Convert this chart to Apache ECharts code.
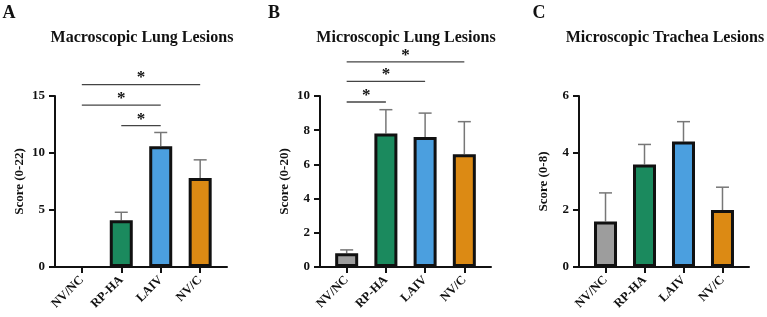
<!DOCTYPE html>
<html>
<head>
<meta charset="utf-8">
<script src="https://cdn.jsdelivr.net/npm/echarts@6/dist/echarts.min.js"></script>
<style>html,body{margin:0;padding:0;background:#fff}#c{width:767px;height:317px}</style>
</head>
<body>
<div id="c"></div>
<script>
const categories = ['NV/NC', 'RP-HA', 'LAIV', 'NV/C'];
const barColors = ['#9d9d9d', '#1b8a5e', '#4b9fdf', '#dc8a14'];

const macroMean = [0, 4.1, 10.6, 7.8];
const macroSd = [0, 0.7, 1.2, 1.6];
const macroSig = [[0, 3, 16.0], [0, 2, 14.2], [1, 2, 12.4]];

const microLungMean = [0.8, 7.8, 7.6, 6.6];
const microLungSd = [0.2, 1.4, 1.4, 1.9];
const microLungSig = [[0, 3, 12.0], [0, 2, 10.85], [0, 1, 9.65]];

const tracheaMean = [1.6, 3.6, 4.4, 2.0];
const tracheaSd = [1.0, 0.7, 0.7, 0.8];
const tracheaSig = [];

const panelTitles = ['Macroscopic Lung Lesions', 'Microscopic Lung Lesions', 'Microscopic Trachea Lesions'];
const panelLetters = ['A', 'B', 'C'];
const yNames = ['Score (0-22)', 'Score (0-20)', 'Score (0-8)'];
const yMax = [15, 10, 6];
const yInterval = [5, 2, 2];

const FONT = '"Liberation Serif", "Times New Roman", serif';

const grids = [
  {left: 55, width: 172, top: 96, height: 171},
  {left: 320, width: 171, top: 96, height: 171},
  {left: 579, width: 170, top: 96, height: 171}
];
const titleX = [137, 401, 660];
const letterX = [4, 269, 534];

const panels = [
  {mean: macroMean, sd: macroSd, sig: macroSig},
  {mean: microLungMean, sd: microLungSd, sig: microLungSig},
  {mean: tracheaMean, sd: tracheaSd, sig: tracheaSig}
];

const option = {
  animation: false,
  backgroundColor: '#fff',
  title: [],
  grid: grids,
  xAxis: [],
  yAxis: [],
  series: []
};

panels.forEach((p, i) => {
  option.title.push({
    text: panelTitles[i], left: titleX[i], top: 25, textAlign: 'center',
    textStyle: {fontFamily: FONT, fontWeight: 'bold', fontSize: 16, color: '#111'}
  });
  option.title.push({
    text: panelLetters[i], left: letterX[i], top: -1, textAlign: 'center',
    textStyle: {fontFamily: FONT, fontWeight: 'bold', fontSize: 18, color: '#111'}
  });
  option.xAxis.push({
    type: 'value', gridIndex: i, min: -0.68, max: 3.68,
    splitLine: {show: false},
    axisLine: {show: true, onZero: false, lineStyle: {color: '#111', width: 2}},
    axisTick: {show: true, customValues: [0, 1, 2, 3], length: 6, lineStyle: {color: '#111', width: 2}},
    axisLabel: {
      customValues: [0, 1, 2, 3], rotate: 45, margin: 11,
      formatter: v => categories[Math.round(v)] || '',
      fontFamily: FONT, fontWeight: 'bold', fontSize: 12.5, color: '#111'
    }
  });
  option.yAxis.push({
    type: 'value', gridIndex: i, min: 0, max: yMax[i], interval: yInterval[i],
    name: yNames[i], nameLocation: 'middle', nameGap: 29, nameRotate: 90,
    nameTextStyle: {fontFamily: FONT, fontWeight: 'bold', fontSize: 13, color: '#111'},
    splitLine: {show: false},
    axisLine: {show: true, onZero: false, lineStyle: {color: '#111', width: 2}},
    axisTick: {show: true, length: 6, lineStyle: {color: '#111', width: 2}},
    axisLabel: {margin: 10, fontFamily: FONT, fontWeight: 'bold', fontSize: 13, color: '#111'}
  });
  // error bars (upper only), behind bars
  option.series.push({
    type: 'custom', xAxisIndex: i, yAxisIndex: i, z: 1,
    encode: {x: 0, y: [1, 2]},
    data: p.mean.map((m, k) => [k, m, m + p.sd[k]]),
    renderItem: (params, api) => {
      if (api.value(2) <= api.value(1)) return null;
      const base = api.coord([api.value(0), api.value(1)]);
      const top = api.coord([api.value(0), api.value(2)]);
      const st = {stroke: '#777', lineWidth: 1.5};
      return {type: 'group', children: [
        {type: 'line', shape: {x1: base[0], y1: base[1], x2: top[0], y2: top[1]}, style: st},
        {type: 'line', shape: {x1: top[0] - 6.5, y1: top[1], x2: top[0] + 6.5, y2: top[1]}, style: st}
      ]};
    }
  });
  option.series.push({
    type: 'bar', xAxisIndex: i, yAxisIndex: i, z: 2, barWidth: 23,
    data: p.mean.map((m, k) => ({
      value: [k, m],
      itemStyle: {color: barColors[k], borderColor: '#111', borderWidth: m > 0 ? 3 : 0}
    }))
  });
  if (p.sig.length) {
    option.series.push({
      type: 'custom', xAxisIndex: i, yAxisIndex: i, z: 3, clip: false,
      encode: {x: [0, 1], y: 2},
      data: p.sig,
      renderItem: (params, api) => {
        const a = api.coord([api.value(0), api.value(2)]);
        const b = api.coord([api.value(1), api.value(2)]);
        return {type: 'group', children: [
          {type: 'line', shape: {x1: a[0], y1: a[1], x2: b[0], y2: b[1]}, style: {stroke: '#444', lineWidth: 1.3}},
          {type: 'text', x: (a[0] + b[0]) / 2, y: a[1] + 2,
           style: {text: '*', textAlign: 'center', textVerticalAlign: 'bottom', font: 'bold 17px ' + FONT, fill: '#111'}}
        ]};
      }
    });
  }
});

const chart = echarts.init(document.getElementById('c'), null, {renderer: 'canvas'});
chart.setOption(option);
</script>
</body>
</html>
